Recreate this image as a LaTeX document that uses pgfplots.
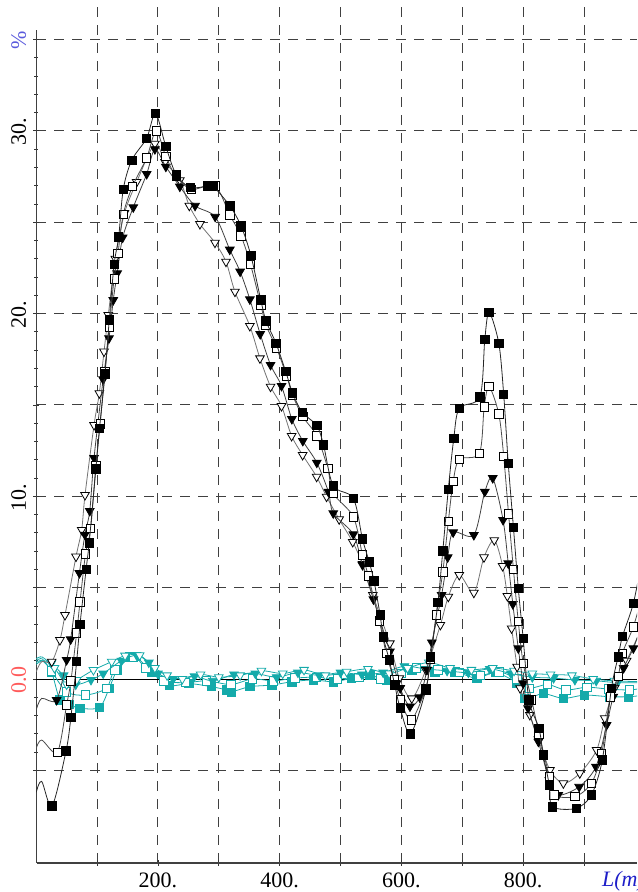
\documentclass[border=0pt]{standalone}
\usepackage{pgfplots}
\pgfplotsset{compat=1.18}
\usepackage{fontspec}
\setmainfont{Liberation Serif}
\definecolor{tealc}{RGB}{20,170,170}
\definecolor{pctblue}{RGB}{90,90,220}
\definecolor{labblue}{RGB}{30,30,200}
\definecolor{zerored}{RGB}{255,90,90}
\begin{document}
\begin{tikzpicture}
\begin{axis}[
  name=ax,
  scale only axis,
  width=300.4pt, height=430pt,
  xmin=0, xmax=987, ymin=-10.07, ymax=37,
  clip mode=individual,
  axis line style={draw=none},
  xtick={100,200,...,900},
  xticklabels={,200.,,400.,,600.,,800.,},
  ytick={-5,0,...,35},
  yticklabels={,\textcolor{zerored}{0.0},,10.,,20.,,30.,\textcolor{pctblue}{\%}},
  minor y tick num=4,
  xtick pos=bottom, ytick pos=left,
  tick align=center,
  major tick length=3pt, minor tick length=2pt,
  tick style={black!80, line width=0.4pt},
  grid=major,
  major grid style={black!75, line width=0.5pt, dash pattern=on 5pt off 4pt},
  ticklabel style={font=\fontsize{11}{13}\selectfont},
  yticklabel style={rotate=90, anchor=south, xshift=-0.5pt},
]
% axis lines and zero line
\draw[black!75, line width=0.6pt] (axis cs:0,-10.07) -- (axis cs:0,35.5);
\draw[black!75, line width=0.6pt] (axis cs:2,-10.07) -- (axis cs:987,-10.07);
\draw[black, line width=0.5pt] (axis cs:0,0) -- (axis cs:987,0);
\node[anchor=north west, inner sep=0pt, text=labblue, font=\fontsize{11}{13}\selectfont\itshape] at (axis cs:929,-10.07) [yshift=-3.8pt] {L(m)};

% teal series
\addplot[color=tealc, line width=0.4pt, smooth, mark=square*, mark size=2.1pt, mark phase=3, mark options={solid, fill=tealc, draw=tealc}] coordinates {
(0,0.9) (10,1.0) (25,0.4) (39,-1.15) (55,-1.4) (72,-1.6) (104,-1.55) (120,-0.5) (133,0.5) (154,1.2) (164,1.25) (190,0.35) (219,-0.35) (251,-0.25) (288,-0.42) (313,-0.6) (321,-0.7) (351,-0.42) (387,-0.33) (420,-0.15) (455,-0.05) (488,-0.15) (518,0.04) (548,0.22) (576,-0.05) (617,0.49) (655,0.4) (688,0.4) (724,0.04) (754,0.35) (790,-0.24) (803,-1.06) (833,-0.8) (866,-1.06) (901,-0.88) (942,-0.97) (973,-0.97) (995,-0.9)
};
\addplot[color=tealc, line width=0.4pt, smooth, mark=square*, mark size=2.1pt, mark phase=3, mark options={solid, fill=white, draw=tealc}] coordinates {
(0,1.0) (10,1.1) (25,0.44) (50,-0.7) (81,-0.88) (115,-0.51) (129,0.49) (160,1.19) (180,0.6) (210,-0.1) (245,-0.2) (280,-0.1) (320,-0.3) (355,0.0) (390,-0.1) (425,0.05) (460,0.1) (495,0.0) (530,0.1) (565,0.0) (600,0.3) (625,0.6) (660,0.5) (695,0.35) (730,0.2) (760,0.4) (790,0.0) (810,-0.5) (840,-0.3) (870,-0.6) (905,-0.45) (940,-0.55) (975,-0.6) (995,-0.5)
};
\addplot[color=tealc, line width=0.4pt, smooth, mark=triangle*, mark size=2.5pt, mark phase=3, mark options={solid, rotate=180, fill=tealc, draw=tealc}] coordinates {
(0,0.8) (10,1.0) (25,0.86) (45,0.2) (65,-0.3) (90,-0.05) (110,0.3) (140,1.0) (165,1.3) (185,0.9) (200,0.3) (225,0.0) (260,0.15) (290,-0.1) (325,0.25) (360,0.3) (395,0.1) (430,0.35) (465,0.2) (500,0.35) (535,0.25) (570,0.35) (605,0.7) (640,0.55) (675,0.45) (710,0.35) (745,0.55) (780,0.3) (815,0.1) (850,0.05) (885,-0.05) (920,-0.1) (955,-0.2) (995,-0.2)
};
\addplot[color=tealc, line width=0.4pt, smooth, mark=triangle*, mark size=2.5pt, mark phase=3, mark options={solid, rotate=180, fill=white, draw=tealc}] coordinates {
(0,1.1) (10,1.2) (30,0.6) (50,-0.3) (66.5,-0.05) (94,0.49) (124,0.95) (146,1.28) (170,1.3) (195,0.6) (215,0.2) (240,0.0) (270,0.25) (300,0.1) (335,0.2) (370,0.45) (405,0.3) (440,0.5) (475,0.2) (510,0.4) (545,0.55) (580,0.3) (610,0.6) (645,0.9) (680,0.6) (715,0.5) (750,0.6) (785,0.45) (815,0.3) (845,0.25) (880,0.2) (915,0.0) (950,-0.1) (995,-0.15)
};

% black series
\addplot[color=black!55, line width=0.4pt, smooth, mark=triangle*, mark size=2.5pt, mark phase=3, mark options={solid, rotate=180, fill=white, draw=black}] coordinates {
(0,0.4) (9,0.95) (25.5,0.95) (39,2.13) (47.3,3.5) (65.4,6.7) (74.7,8.16) (80.2,10.07) (95,13.9) (103.7,15.64) (111.4,17.92) (118.4,19.92) (130,23.0) (145,25.5) (165,27.2) (195,29.3) (211.6,28.3) (236,27.3) (251.5,25.9) (269,24.9) (293.7,23.88) (311.8,22.84) (326.5,21.2) (351,19.32) (367.6,17.55) (385,16.0) (403,14.94) (419.6,13.3) (437.7,12.26) (460.7,11.07) (477,9.98) (497.7,8.74) (520,7.5) (536,6.3) (553,4.6) (581,1.95) (596.5,0.04) (617,-1.06) (640,0.5) (664,2.96) (677,4.5) (695,5.69) (719,4.72) (735.6,6.66) (752.5,7.6) (766.3,6.18) (774,4.54) (781,2.77) (790,0.67) (795,-0.51) (811,-1.97) (825,-3.3) (844,-4.98) (866,-5.71) (893,-5.16) (920.7,-3.89) (934,-2.15) (950,-0.5) (970,1.0) (995,2.8)
};
\addplot[color=black!75, line width=0.4pt, smooth, mark=triangle*, mark size=2.5pt, mark phase=3, mark options={solid, rotate=180, fill=black, draw=black}] coordinates {
(0,-1.7) (9,-1.06) (33.6,-1.15) (50,1.04) (56.6,2.17) (71,5.8) (80,7.9) (88,9.2) (95,12.1) (110,16.4) (119.6,18.65) (126.6,20.74) (133,22.2) (142,24.16) (159.5,25.82) (181.5,27.64) (195,29.0) (213,28.04) (236,26.95) (261,25.9) (294,25.3) (318,23.5) (335,22.3) (351,20.78) (368,18.88) (385,17.19) (403,16.04) (420,14.23) (438,13.03) (461,11.84) (480,10.25) (488,9.07) (521,7.92) (536,6.24) (554,4.36) (581,1.5) (598,-0.5) (614,-1.5) (630,-1.0) (642,0.5) (650,2.0) (666,4.6) (676,6.66) (685,8.03) (719,7.88) (737,10.25) (750,11.0) (767,8.7) (775.5,6.33) (783,4.1) (792,1.68) (800,-0.24) (808,-1.6) (825,-3.43) (843,-5.53) (857.6,-6.35) (892,-5.9) (919.5,-4.8) (937,-2.52) (948,-0.97) (965,0.6) (981,1.68) (995,3.0)
};
\addplot[color=black!70, line width=0.4pt, smooth, mark=square*, mark size=2.1pt, mark phase=3, mark options={solid, fill=white, draw=black}] coordinates {
(0,-3.8) (9,-3.34) (34.7,-4.01) (50,-1.42) (57,-0.11) (66.5,2.53) (72,4.23) (81,6.84) (89.5,8.25) (98,11.66) (105,13.96) (113,16.82) (120,19.28) (128,21.9) (134.4,23.3) (143,25.43) (158,26.95) (181.5,28.53) (197,30.0) (213,28.59) (230,27.5) (255,26.8) (294,26.98) (318,25.4) (336.5,24.25) (352,22.7) (369,20.47) (377.5,19.37) (395,18.1) (411.5,16.58) (421,15.55) (438,14.36) (461,13.3) (479,11.53) (488,10.16) (521,8.88) (536,6.79) (545.5,5.65) (563.6,3.19) (575,1.4) (588,-0.05) (598,-1.11) (616,-2.24) (640,-0.5) (648,1.1) (657,3.5) (668,5.87) (677,8.61) (685,10.8) (695,12.02) (728,12.35) (736,14.9) (744,16.0) (760,14.5) (768,12.2) (776,9.03) (784,6.0) (792,3.14) (800,0.86) (814,-1.15) (826,-3.0) (843,-5.35) (850.5,-6.35) (885,-6.44) (912,-5.71) (929,-4.07) (943,-0.97) (956,0.13) (963,1.41) (981,2.86) (995,4.5)
};
\addplot[color=black!85, line width=0.4pt, smooth, mark=square*, mark size=2.1pt, mark phase=3, mark options={solid, fill=black, draw=black}] coordinates {
(0,-6.2) (9,-5.6) (26,-6.95) (49,-3.94) (57,-2.1) (66.5,0.98) (72,3.0) (82,6.0) (87,7.45) (98,11.5) (104,13.7) (113,16.7) (120,19.65) (128,22.7) (135.5,24.2) (143,26.8) (157,28.4) (181.5,29.6) (196,30.96) (213,29.14) (230,27.6) (253,26.9) (281,26.98) (290,27.0) (318,25.9) (336.5,24.8) (352.5,23.2) (369,20.74) (377.5,19.6) (394,18.37) (410,16.82) (421,15.67) (437,14.6) (461,13.87) (472,12.81) (488,10.58) (521,9.89) (536,7.66) (547,6.42) (555,5.36) (565,3.5) (570,2.3) (580,1.04) (589,-0.33) (598,-1.6) (615,-3.0) (640,-0.6) (648,1.22) (660,4.2) (668,7.02) (677,10.38) (686,13.17) (695,14.82) (729,15.45) (737,18.6) (744,20.07) (760,18.37) (768,15.58) (775.5,11.8) (784,8.3) (792,4.96) (800,2.23) (809.5,-1.15) (826,-2.7) (833,-4.16) (843,-5.8) (848,-6.99) (887,-7.08) (912,-6.35) (930,-4.43) (945,-0.51) (956,1.22) (963,2.32) (981,4.14) (995,6.5)
};
\end{axis}
\pgfresetboundingbox
\path[use as bounding box] ([xshift=-18.1pt,yshift=-14.5pt]ax.south west) rectangle ([yshift=1.5pt]ax.north east);
\end{tikzpicture}
\end{document}
